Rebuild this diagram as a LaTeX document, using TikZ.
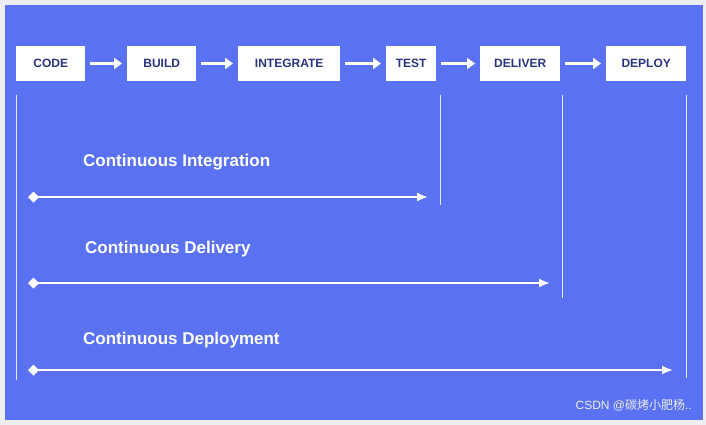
\documentclass[tikz,border=0pt]{standalone}
\usepackage{fontspec}
\setmainfont{Liberation Sans}
\newfontfamily\cjk{Noto Sans CJK SC}
\usetikzlibrary{positioning, arrows.meta}
\definecolor{bgblue}{HTML}{5A72F2}
\definecolor{navy}{HTML}{2B3380}
\definecolor{frame}{HTML}{EEEEF2}
\begin{document}
\begin{tikzpicture}
[
    x=1pt, y=-1pt,
    % stages are named S-code ... S-deploy
    stage/.style={fill=white, text=navy, font=\bfseries\fontsize{12}{14}\selectfont,
        minimum height=35pt, inner sep=0pt, anchor=west},
    advance/.style={white, line width=3.5pt, -{Triangle[length=8pt,width=11pt]}},
    reach/.style={white, line width=2pt, {Diamond[length=11pt,width=11pt]}-{Latex[length=11pt,width=9pt]}},
    divider/.style={white!85!bgblue, line width=1pt},
    phasetext/.style={text=white, font=\bfseries\fontsize{17}{20}\selectfont, anchor=west, inner sep=0pt}
]

%=================================== Start ===================================
\fill[frame] (0,0) rectangle (706,425);
\fill[bgblue] (5,5) rectangle (703,420);
\useasboundingbox (0,0) rectangle (706,425);

% Draw stages
\foreach \n / \x / \w / \t in {code/16/69/CODE, build/127/69/BUILD, integrate/238/102/INTEGRATE,
        test/386/50/TEST, deliver/480/80/DELIVER, deploy/606/80/DEPLOY}
    \node[stage, minimum width=\w pt] (S-\n) at (\x,63.5) {\t};

% Connect stages
\foreach \a / \b in {code/build, build/integrate, integrate/test, test/deliver, deliver/deploy}
    \draw[advance] ([xshift=5pt]S-\a.east) -- ([xshift=-5pt]S-\b.west);

% Vertical markers
\coordinate (T-16) at (16,95);   \coordinate (B-16) at (16,380);
\coordinate (T-440) at (440,95); \coordinate (B-440) at (440,205);
\coordinate (T-562) at (562,95); \coordinate (B-562) at (562,298);
\coordinate (T-686) at (686,95); \coordinate (B-686) at (686,378);
\foreach \x in {16, 440, 562, 686}
    \draw[divider] (T-\x) -- (B-\x);

% Phase spans
\foreach \y / \e / \lx / \ly / \t in {197/428/83/162/Continuous Integration,
        283/550/85/249/Continuous Delivery, 370/673/83/340/Continuous Deployment}
{
    \coordinate (L-\y) at (28,\y);
    \coordinate (R-\y) at (\e,\y);
    \draw[reach] (L-\y) -- (R-\y);
    \node[phasetext] (P-\y) at (\lx,\ly) {\t};
}

% Watermark
\node[text=white!85!gray, font=\fontsize{12}{14}\selectfont, anchor=east, inner sep=0pt]
    (W) at (692,405) {CSDN @{\cjk 碳烤小肥杨}..};
%==================================== END ====================================

\end{tikzpicture}
\end{document}
